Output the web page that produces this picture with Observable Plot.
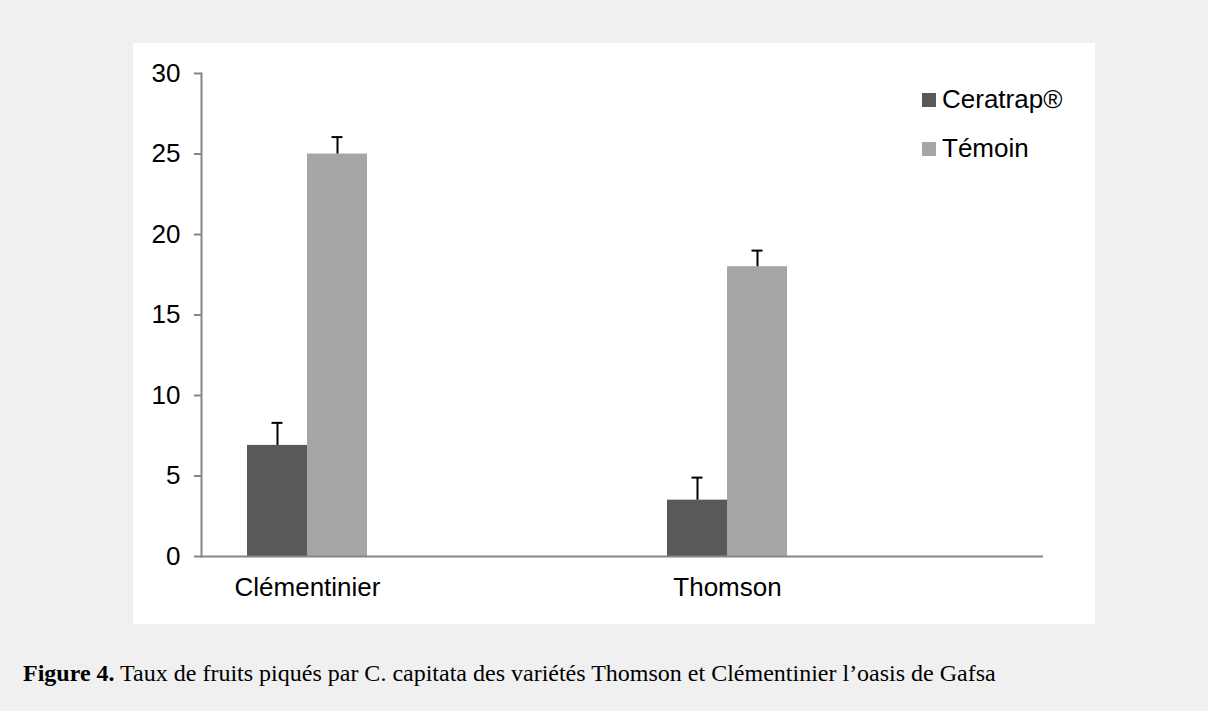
<!DOCTYPE html>
<html>
<head>
<meta charset="utf-8">
<script src="https://cdn.jsdelivr.net/npm/d3@7"></script>
<script src="https://cdn.jsdelivr.net/npm/@observablehq/plot@0.6"></script>
<style>
  html, body { margin: 0; padding: 0; background: #f0f0f0; width: 1208px; height: 711px; overflow: hidden; }
  #panel { position: absolute; left: 133px; top: 43px; width: 962px; height: 581px; background: #fff; }
  #legend { position: absolute; left: 922px; top: 0; font-family: "Liberation Sans", Arial, sans-serif; font-size: 26px; color: #000; }
  .item { position: absolute; white-space: nowrap; }
  .sw { position: absolute; width: 14px; height: 14px; }
  #caption { position: absolute; left: 23px; top: 660px; font-family: "Liberation Serif", "Times New Roman", serif; font-size: 24px; color: #000; white-space: nowrap; }
</style>
</head>
<body>
<div id="panel"></div>
<div id="legend"></div>
<div id="caption"></div>
<script>
const categories = ["Clémentinier", "Thomson"];
const series = ["Ceratrap®", "Témoin"];
const ceratrapValues = [6.9, 3.5];
const ceratrapErrors = [1.4, 1.4];
const temoinValues = [25, 18];
const temoinErrors = [1.05, 1.0];
const yTicks = [0, 5, 10, 15, 20, 25, 30];
const colors = ["#595959", "#a6a6a6"];

const ceratrap = categories.map((c, i) => ({cat: c, v: ceratrapValues[i], e: ceratrapErrors[i]}));
const temoin = categories.map((c, i) => ({cat: c, v: temoinValues[i], e: temoinErrors[i]}));

const axisGray = "#868686";

const chart = Plot.plot({
  width: 962,
  height: 581,
  marginLeft: 68,
  marginRight: 52,
  marginTop: 30,
  marginBottom: 68,
  style: {fontFamily: "Liberation Sans, Arial, sans-serif", fontSize: "26px", color: "#000", background: "transparent"},
  x: {type: "band", domain: categories, range: [-36, 804], padding: 0, label: null},
  y: {domain: [0, 30], label: null},
  marks: [
    Plot.barY(ceratrap, {x: "cat", y: "v", fill: colors[0], insetLeft: 150, insetRight: 210}),
    Plot.barY(temoin, {x: "cat", y: "v", fill: colors[1], insetLeft: 210, insetRight: 150}),
    Plot.ruleX(ceratrap, {x: "cat", y1: "v", y2: d => d.v + d.e, dx: -30, stroke: "#000", strokeWidth: 2}),
    Plot.ruleX(temoin, {x: "cat", y1: "v", y2: d => d.v + d.e, dx: 30, stroke: "#000", strokeWidth: 2}),
    Plot.tickY(ceratrap, {x: "cat", y: d => d.v + d.e, insetLeft: 174.5, insetRight: 234.5, stroke: "#000", strokeWidth: 2}),
    Plot.tickY(temoin, {x: "cat", y: d => d.v + d.e, insetLeft: 234.5, insetRight: 174.5, stroke: "#000", strokeWidth: 2}),
    Plot.axisY({ticks: yTicks, tickSize: 7, tickPadding: 14, stroke: axisGray, strokeWidth: 2, fill: "#000", label: null}),
    Plot.axisX({tickSize: 0, tickPadding: 21, fill: "#000", label: null}),
    Plot.frame({anchor: "left", stroke: axisGray, strokeWidth: 2}),
    Plot.ruleY([0], {stroke: axisGray, strokeWidth: 2})
  ]
});
document.getElementById("panel").appendChild(chart);

const legend = document.getElementById("legend");
const legendTops = [93, 142];
series.forEach((s, i) => {
  const sw = document.createElement("div");
  sw.className = "sw";
  sw.style.left = "0px";
  sw.style.top = legendTops[i] + "px";
  sw.style.background = colors[i];
  legend.appendChild(sw);
  const t = document.createElement("div");
  t.className = "item";
  t.style.left = "20px";
  t.style.top = (legendTops[i] - 9) + "px";
  t.textContent = s;
  legend.appendChild(t);
});

const cap = document.getElementById("caption");
const b = document.createElement("b");
b.textContent = "Figure 4.";
cap.appendChild(b);
cap.appendChild(document.createTextNode(" Taux de fruits piqués par C. capitata des variétés Thomson et Clémentinier l’oasis de Gafsa"));
</script>
</body>
</html>
